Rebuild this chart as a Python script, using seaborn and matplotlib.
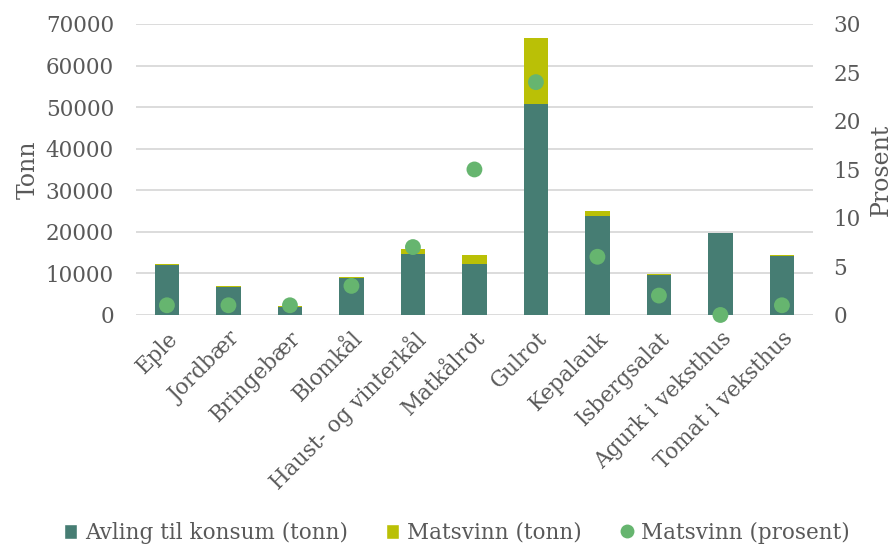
import matplotlib
matplotlib.use("Agg")
import matplotlib.pyplot as plt
import seaborn as sns
import pandas as pd
from matplotlib.patches import Patch
from matplotlib.lines import Line2D

categories = ["Eple", "Jordbær", "Bringebær", "Blomkål", "Haust- og vinterkål",
              "Matkålrot", "Gulrot", "Kepalauk", "Isbergsalat", "Agurk i veksthus",
              "Tomat i veksthus"]
avling = [12000, 6800, 1900, 8900, 14700, 12200, 50800, 23700, 9600, 19600, 14300]
matsvinn_tonn = [250, 200, 200, 300, 1100, 2200, 15900, 1400, 300, 200, 150]
matsvinn_pct = [1.0, 1.0, 1.0, 3.0, 7.0, 15.0, 24.0, 6.0, 2.0, 0.0, 1.0]

df = pd.DataFrame({"kat": categories, "avling": avling, "svinn": matsvinn_tonn,
                   "pct": matsvinn_pct})
df["total"] = df["avling"] + df["svinn"]

TEAL = "#467D73"
YEL = "#BAC006"
DOT = "#66B56F"
GRID = "#D9D9D9"
TXT = "#595959"
FS = 15.5

sns.set_theme(style="white")
plt.rcParams["font.family"] = ["DejaVu Serif"]

fig = plt.figure(figsize=(8.96, 5.44), dpi=100)
ax = fig.add_axes([0.152, 0.421, 0.755, 0.535])

sns.barplot(data=df, x="kat", y="total", color=YEL, width=0.4, ax=ax,
            saturation=1, edgecolor="none")
sns.barplot(data=df, x="kat", y="avling", color=TEAL, width=0.4, ax=ax,
            saturation=1, edgecolor="none")
ax.set_ylim(0, 70000)
ax.set_yticks(range(0, 70001, 10000))
ax.set_xlim(-0.5, len(categories) - 0.5)
ax.yaxis.grid(True, color=GRID, linewidth=1.3)
ax.set_axisbelow(True)
for s in ax.spines.values():
    s.set_visible(False)
ax.tick_params(axis="y", length=0, colors=TXT, labelsize=FS, pad=16)
ax.tick_params(axis="x", length=0, colors=TXT, labelsize=FS, pad=9)
ax.set_xlabel("")
ax.set_ylabel("Tonn", color=TXT, fontsize=17, labelpad=4)
ax.set_xticks(range(len(categories)))
ax.set_xticklabels(categories, rotation=45, ha="right", rotation_mode="anchor",
                   fontsize=FS, color=TXT)

ax2 = ax.twinx()
sns.scatterplot(data=df, x="kat", y="pct", color=DOT, s=130, edgecolor="none",
                ax=ax2, zorder=5, clip_on=False)
ax2.set_ylim(0, 30)
ax2.set_yticks(range(0, 31, 5))
ax2.set_xlim(-0.5, len(categories) - 0.5)
for s in ax2.spines.values():
    s.set_visible(False)
ax2.tick_params(axis="y", length=0, colors=TXT, labelsize=FS, pad=15)
ax2.set_ylabel("Prosent", color=TXT, fontsize=17, rotation=90, labelpad=6)
ax2.grid(False)

handles = [Patch(facecolor=TEAL, label="Avling til konsum (tonn)"),
           Patch(facecolor=YEL, label="Matsvinn (tonn)"),
           Line2D([], [], marker="o", linestyle="none", markerfacecolor=DOT,
                  markeredgecolor="none", markersize=10, label="Matsvinn (prosent)")]
leg = fig.legend(handles=handles, loc="lower center", bbox_to_anchor=(0.51, -0.035),
                 ncol=3, frameon=False, fontsize=FS, handlelength=0.6,
                 handleheight=0.7, handletextpad=0.35, columnspacing=1.8)
for t in leg.get_texts():
    t.set_color(TXT)

fig.savefig("out.png", dpi=100)
